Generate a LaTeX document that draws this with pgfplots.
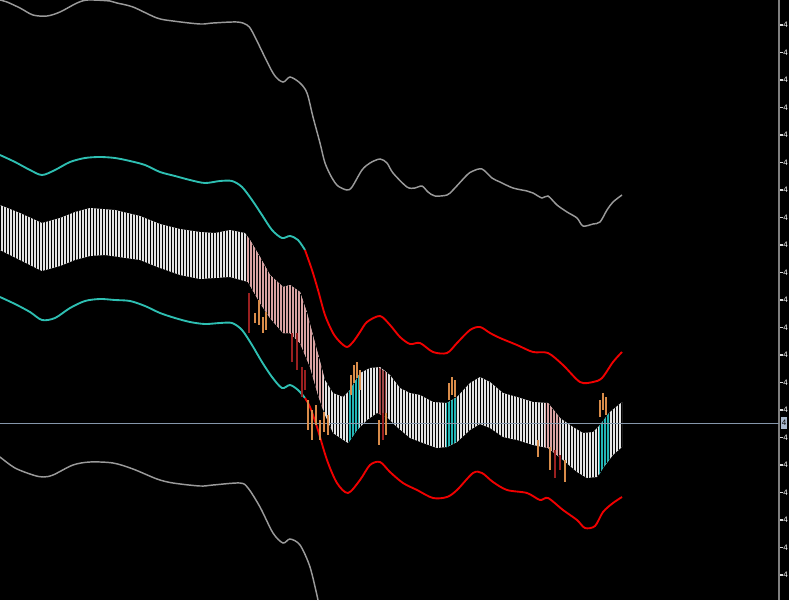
\documentclass[border=0pt]{standalone}
\usepackage{fontspec}
\setmainfont{Liberation Sans}
\usepackage{pgfplots}
\pgfplotsset{compat=1.18}
\usetikzlibrary{patterns.meta}
\definecolor{bandcyan}{HTML}{2EBFB2}
\definecolor{bandred}{HTML}{F00000}
\definecolor{outergray}{HTML}{9A9A9A}
\definecolor{barwhite}{HTML}{E4E4E4}
\definecolor{barpink}{HTML}{D9A2A2}
\definecolor{bardark}{HTML}{A04848}
\definecolor{barcyan}{HTML}{22B4B4}
\definecolor{wickorange}{HTML}{D98C4A}
\definecolor{wickred}{HTML}{9A2020}
\definecolor{priceline}{HTML}{8596AA}
\definecolor{pricebox}{HTML}{A9B8CC}
\tikzset{bars/.style={draw=none, fill=#1, postaction={pattern={Lines[angle=90,distance=2.25pt,line width=0.35pt]}, pattern color=black}}}
\begin{document}
\begin{tikzpicture}
\useasboundingbox (0,0) rectangle (591.75pt,450pt);
\clip (0,0) rectangle (591.75pt,450pt);
\fill[black] (0,0) rectangle (591.75pt,450pt);
\begin{axis}[
  at={(0,0)}, anchor=south west,
  scale only axis, width=584.25pt, height=450pt,
  xmin=0, xmax=779, ymin=0, ymax=600, y dir=reverse,
  clip=false,
  axis x line=none, axis y line*=right,
  y axis line style={draw=gray, line width=1.3pt},
  ytick={-2.5,25,52.5,80,107.5,135,162.5,190,217.5,245,272.5,300,327.5,355,382.5,410,437.5,465,492.5,520,547.5,575},
  yticklabel={4},
  tick align=outside, major tick length=3pt,
  ytick style={draw=white!85!black, line width=0.8pt},
  yticklabel style={font=\fontsize{6}{7}\selectfont, text=white, inner sep=0pt, anchor=west},
  extra y ticks={423}, extra y tick labels={4},
  extra y tick style={major tick length=0pt, yticklabel style={fill=pricebox, text=black, inner xsep=0.8pt, inner ysep=0pt, minimum height=9pt, xshift=1.1pt}},
]
% histogram band: top edge, then bottom edge back
\addplot[bars=barwhite] coordinates {
(0,205)(20,213)(42,223)(60,218)(75,212)(90,208)(115,210)(140,216)(160,224)(180,229)(200,232)(215,233)(230,230)(245,233)(250,240)(260,257)(270,275)(283,287)(290,285)(300,292)(307,313)(315,343)(325,380)(333,393)(343,397)(350,390)(360,373)(370,368)(380,367)(390,375)(400,388)(410,393)(420,395)(433,402)(447,403)(457,397)(470,383)(480,377)(490,382)(503,393)(517,397)(533,402)(548,403)(560,418)(573,427)(583,433)(593,432)(600,425)(610,412)(622,402)
(622,447)(613,455)(603,468)(597,477)(587,478)(577,472)(563,460)(548,448)(533,445)(517,440)(503,437)(490,428)(480,424)(470,430)(457,442)(447,447)(437,448)(423,443)(410,438)(397,427)(387,417)(377,413)(367,420)(357,430)(348,443)(333,433)(325,415)(318,395)(310,367)(300,343)(290,333)(283,333)(270,318)(260,303)(248,282)(230,277)(200,279)(180,275)(160,268)(140,260)(105,255)(90,256)(75,260)(60,266)(42,271)(20,260)(0,250)} -- cycle;
\addplot[bars=barpink] coordinates {
(247,236)(250,240)(260,257)(270,275)(283,287)(290,285)(300,292)(307,313)(315,343)(323,373)
(323,410)(318,395)(310,367)(300,343)(290,333)(283,333)(270,318)(260,303)(248,282)(247,281)} -- cycle;
\addplot[bars=bardark] coordinates {(378,367)(386,372)(386,417)(378,413)} -- cycle;
\addplot[bars=barpink] coordinates {(545,403)(548,403)(560,418)(560,457)(548,448)(545,447)} -- cycle;
\addplot[bars=barcyan] coordinates {(349,391)(350,390)(359,375)(359,428)(357,430)(349,442)} -- cycle;
\addplot[bars=barcyan] coordinates {(446,403)(447,403)(456,398)(456,442)(447,447)(446,447)} -- cycle;
\addplot[bars=barcyan] coordinates {(599,426)(600,425)(609,413)(609,460)(603,468)(599,475)} -- cycle;
% price line
\addplot[priceline, line width=0.75pt] coordinates {(0,423)(779,423)};
% outer gray bands
\addplot[outergray, line width=1.1pt, smooth] coordinates {
(0,0)(7,2)(20,8)(33,15)(47,16)(60,12)(77,3)(88,0)(110,1)(117,3)(133,7)(157,18)(173,21)(200,24)(213,23)(237,22)(247,25)(253,33)(273,73)(283,82)(290,77)(300,83)(307,93)(313,117)(320,143)(325,163)(332,178)(338,186)(347,190)(352,187)(362,170)(370,163)(380,159)(387,163)(393,173)(407,187)(415,188)(422,186)(428,192)(435,196)(447,195)(453,190)(467,175)(473,171)(482,169)(492,178)(500,182)(513,188)(527,191)(533,193)(542,198)(548,196)(557,205)(567,212)(577,218)(583,226)(593,224)(600,222)(607,210)(613,202)(622,195)};
\addplot[outergray, line width=1.1pt, smooth] coordinates {
(0,457)(15,468)(33,475)(43,477)(53,475)(73,465)(90,462)(113,463)(133,469)(157,479)(173,483)(200,486)(213,485)(240,483)(248,488)(260,507)(273,533)(283,543)(290,539)(300,545)(310,567)(318,600)};
% inner bands: cyan part
\addplot[bandcyan, line width=1.4pt, smooth] coordinates {
(0,155)(15,162)(30,170)(42,175)(55,170)(70,162)(85,158)(100,157)(115,158)(130,161)(145,165)(160,172)(175,176)(190,180)(205,183)(220,181)(232,181)(242,187)(252,200)(262,215)(272,230)(282,238)(290,236)(298,240)(305,250)};
\addplot[bandcyan, line width=1.4pt, smooth] coordinates {
(0,297)(15,304)(30,312)(42,320)(55,318)(70,308)(85,301)(100,299)(115,300)(130,301)(145,306)(160,313)(175,318)(190,322)(205,324)(220,323)(232,323)(242,330)(252,345)(262,362)(272,377)(282,388)(290,385)(298,390)(305,398)};
% inner bands: red part
\addplot[bandred, line width=1.4pt, smooth] coordinates {
(305,250)(312,270)(318,290)(325,315)(333,333)(340,342)(347,347)(353,342)(360,332)(367,322)(380,316)(390,325)(400,337)(410,344)(420,343)(433,352)(447,353)(457,343)(470,330)(480,327)(490,333)(500,338)(517,345)(533,352)(548,353)(563,365)(580,382)(593,382)(602,378)(613,362)(622,352)};
\addplot[bandred, line width=1.4pt, smooth] coordinates {
(305,398)(310,407)(317,427)(327,460)(337,483)(348,493)(360,480)(370,465)(380,462)(390,472)(403,483)(417,490)(433,498)(447,497)(457,490)(473,473)(482,473)(493,482)(507,490)(527,493)(540,500)(548,498)(563,510)(577,520)(585,528)(595,526)(603,512)(613,503)(622,497)};
% wicks
\addplot[wickred, line width=0.8pt, unbounded coords=jump] coordinates {
(249,293)(249,333)(249,nan)
(292,333)(292,362)(292,nan)
(297,333)(297,370)(297,nan)
(302,367)(302,397)(302,nan)
(305,370)(305,390)(305,nan)
(383,413)(383,440)(383,nan)
(555,450)(555,478)(555,nan)
(560,455)(560,470)};
\addplot[wickorange, line width=0.8pt, unbounded coords=jump] coordinates {
(255,313)(255,323)(255,nan)
(259,300)(259,325)(259,nan)
(263,317)(263,333)(263,nan)
(266,312)(266,330)(266,nan)
(308,400)(308,430)(308,nan)
(312,410)(312,440)(312,nan)
(316,405)(316,425)(316,nan)
(320,420)(320,440)(320,nan)
(324,412)(324,432)(324,nan)
(328,415)(328,435)(328,nan)
(351,375)(351,395)(351,nan)
(354,365)(354,383)(354,nan)
(357,362)(357,378)(357,nan)
(360,370)(360,390)(360,nan)
(379,420)(379,445)(379,nan)
(386,413)(386,435)(386,nan)
(449,383)(449,400)(449,nan)
(452,377)(452,395)(452,nan)
(455,380)(455,397)(455,nan)
(538,440)(538,457)(538,nan)
(550,447)(550,470)(550,nan)
(565,460)(565,482)(565,nan)
(600,400)(600,417)(600,nan)
(603,393)(603,410)(603,nan)
(606,397)(606,415)};
\end{axis}
\end{tikzpicture}
\end{document}
